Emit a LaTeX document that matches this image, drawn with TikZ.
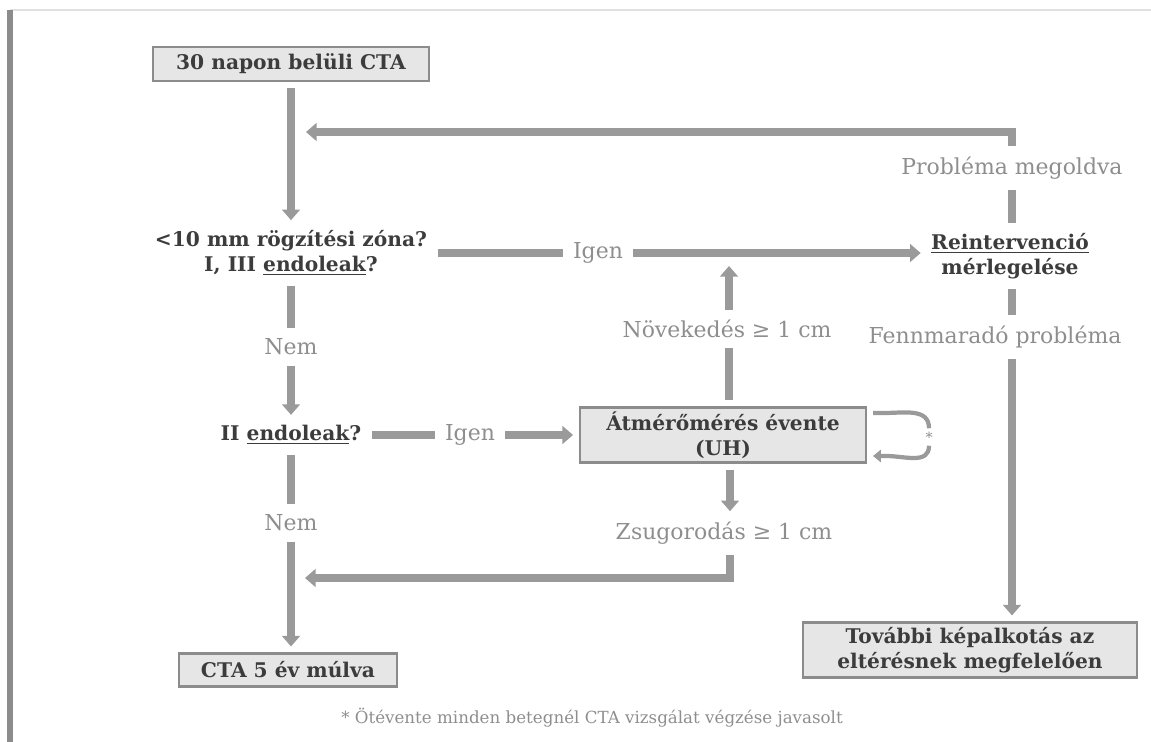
\documentclass[tikz,border=0pt]{standalone}
\usepackage{fontspec}
\setmainfont{DejaVu Serif}
\usetikzlibrary{positioning,calc}
\usetikzlibrary{arrows.meta}
\definecolor{arrowgray}{HTML}{9A9A9A}
\definecolor{boxfill}{HTML}{E6E6E6}
\definecolor{boxdraw}{HTML}{8C8C8C}
\definecolor{textdark}{HTML}{3C3C3C}
\definecolor{labelgray}{HTML}{8E8E8E}
\tikzset{%
  % Specifications for style of nodes:
    >={Triangle[width=10pt,length=6pt]},
    stepbox/.style={draw=boxdraw, line width=1.2pt, fill=boxfill, text=textdark,
        font=\bfseries\fontsize{11.5}{14}\selectfont, align=center, inner sep=0pt, outer sep=4pt},
    question/.style={text=textdark, font=\bfseries\fontsize{11.5}{14}\selectfont,
        align=center, inner sep=1pt, outer sep=5pt},
    answer/.style={text=labelgray, font=\fontsize{12.5}{15}\selectfont, inner sep=1pt, outer sep=5pt},
    flow/.style={draw=arrowgray, line width=4.5pt},
    flowarrow/.style={flow, ->},
    selfloop/.style={draw=arrowgray, line width=2.4pt},
}

\begin{document}
\begin{tikzpicture}[x=0.02cm, y=-0.02cm]
    \useasboundingbox (0,0) rectangle (1151,742);
    % frame of the page
    \draw[draw=black!12, line width=1.2pt] (10,10) -- (1151,10);
    \draw[draw=black!45, line width=3pt] (10,10) -- (10,742);

    % boxes
    \node[stepbox, minimum width=5.52cm, minimum height=0.68cm] (cta30) at (291,64) {30 napon belüli CTA};
    \node[stepbox, minimum width=5.72cm, minimum height=1.1cm] (uh) at (723,435) {Átmérőmérés évente\\(UH)};
    \node[stepbox, minimum width=4.36cm, minimum height=0.66cm] (cta5) at (288,670) {CTA 5 év múlva};
    \node[stepbox, minimum width=6.68cm, minimum height=1.1cm] (further) at (970,650) {További képalkotás az\\eltérésnek megfelelően};

    % questions
    \node[question] (zone) at (291,253) {<10 mm rögzítési zóna?\\I, III \underline{endoleak}?};
    \node[question] (type2) at (291,435) {II \underline{endoleak}?};
    \node[question] (reint) at (1010,256) {\underline{Reintervenció}\\mérlegelése};

    % answers
    \node[answer] (yes1) at (598,253) {Igen};
    \node[answer] (no1) at (291,347) {Nem};
    \node[answer] (yes2) at (470,435) {Igen};
    \node[answer] (no2) at (291,523) {Nem};
    \node[answer] (grow) at (727,329) {Növekedés ≥ 1 cm};
    \node[answer] (shrink) at (724,533) {Zsugorodás ≥ 1 cm};
    \node[answer] (solved) at (1012,168) {Probléma megoldva};
    \node[answer] (remain) at (995,337) {Fennmaradó probléma};
    \node[answer, font=\fontsize{9.5}{11}\selectfont] (foot) at (592,718) {* Ötévente minden betegnél CTA vizsgálat végzése javasolt};
    \node[answer, font=\fontsize{8}{9}\selectfont, inner sep=0pt, outer sep=2pt] (star) at (929,437) {*};

    % corner points
    \coordinate (topright) at (1012,132);
    \coordinate (mergetop) at (306,132);
    \coordinate (mergeup) at (729,266);
    \coordinate (downx) at (730,578);
    \coordinate (mergedown) at (305,578);
    \coordinate (loopout) at (884,413);
    \coordinate (loopback) at (886,456);

    % left column
    \draw[flowarrow] (cta30) -- (zone);
    \draw[flow] (zone) -- (no1);
    \draw[flowarrow] (no1) -- (type2);
    \draw[flow] (type2) -- (no2);
    \draw[flowarrow] (no2) -- (no2 |- cta5.north);

    % horizontal branches
    \draw[flow] (zone) -- (yes1);
    \draw[flowarrow] (yes1) -- (yes1 -| reint.west);
    \draw[flow] (type2) -- (yes2);
    \draw[flowarrow] (yes2) -- (uh);

    % yearly measurement
    \draw[flow] (uh.north -| mergeup) -- (grow.south -| mergeup);
    \draw[flowarrow] (grow.north -| mergeup) -- (mergeup);
    \draw[flowarrow] (uh.south -| downx) -- (shrink.north -| downx);
    \draw[flowarrow] (shrink.south -| downx) -- (downx) -- (mergedown);
    \draw[selfloop] (loopout -| uh.east) -- (loopout) to[out=0, in=90, looseness=1.1] (star.north);
    \draw[selfloop, -{Triangle[width=7pt,length=4.5pt]}] (star.south) to[out=-90, in=0, looseness=1.1] (loopback) -- (loopback -| uh.east);

    % right column
    \draw[flowarrow] (solved.north -| topright) -- (topright) -- (mergetop);
    \draw[flow] (reint.north -| topright) -- (solved.south -| topright);
    \draw[flow] (reint.south -| topright) -- (remain.north -| topright);
    \draw[flowarrow] (remain.south -| topright) -- (further.north -| topright);
\end{tikzpicture}
\end{document}
